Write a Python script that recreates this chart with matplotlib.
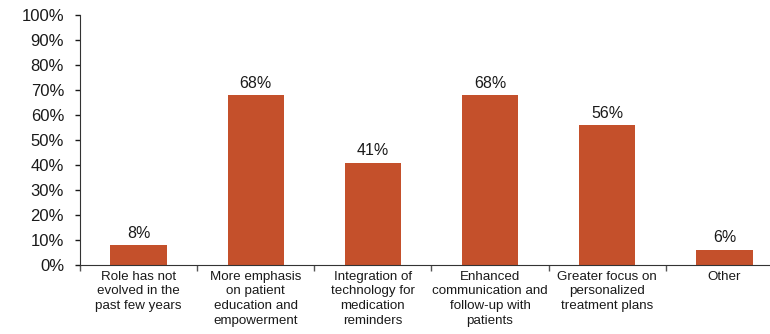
import numpy as np
import matplotlib.pyplot as plt
from matplotlib.ticker import FixedLocator, PercentFormatter

categories = [
    "Role has not\nevolved in the\npast few years",
    "More emphasis\non patient\neducation and\nempowerment",
    "Integration of\ntechnology for\nmedication\nreminders",
    "Enhanced\ncommunication and\nfollow-up with\npatients",
    "Greater focus on\npersonalized\ntreatment plans",
    "Other",
]
values = [8, 68, 41, 68, 56, 6]

plt.rcParams["font.family"] = ["Liberation Sans", "DejaVu Sans"]

fig = plt.figure(figsize=(7.7, 3.34), dpi=100, facecolor="white")
ax = fig.add_axes([80 / 770, 69 / 334, 703 / 770, 250 / 334])

x = np.arange(len(categories))
bars = ax.bar(x, values, width=0.48, color="#C4502B")
for xi, v in zip(x, values):
    ax.text(xi, v + 1.8, f"{v}%", ha="center", va="bottom", fontsize=11.5, color="#1a1a1a")

ax.set_xlim(-0.5, len(categories) - 0.5)
ax.set_ylim(0, 100)
ax.set_yticks(range(0, 101, 10))
ax.yaxis.set_major_formatter(PercentFormatter(decimals=0))
ax.tick_params(axis="y", labelsize=12, length=3.5, width=1, pad=8, colors="#1a1a1a")

ax.set_xticks(x)
ax.set_xticklabels(categories, fontsize=9.6, color="#1a1a1a", linespacing=1.3)
ax.tick_params(axis="x", which="major", length=0, pad=4)
ax.xaxis.set_minor_locator(FixedLocator(np.arange(-0.5, len(categories), 1.0)))
ax.tick_params(axis="x", which="minor", length=4, width=1, color="#555555")

for side in ["top", "right"]:
    ax.spines[side].set_visible(False)
ax.spines["left"].set_color("#333333")
ax.spines["bottom"].set_color("#333333")

fig.savefig("out.png", dpi=100)
